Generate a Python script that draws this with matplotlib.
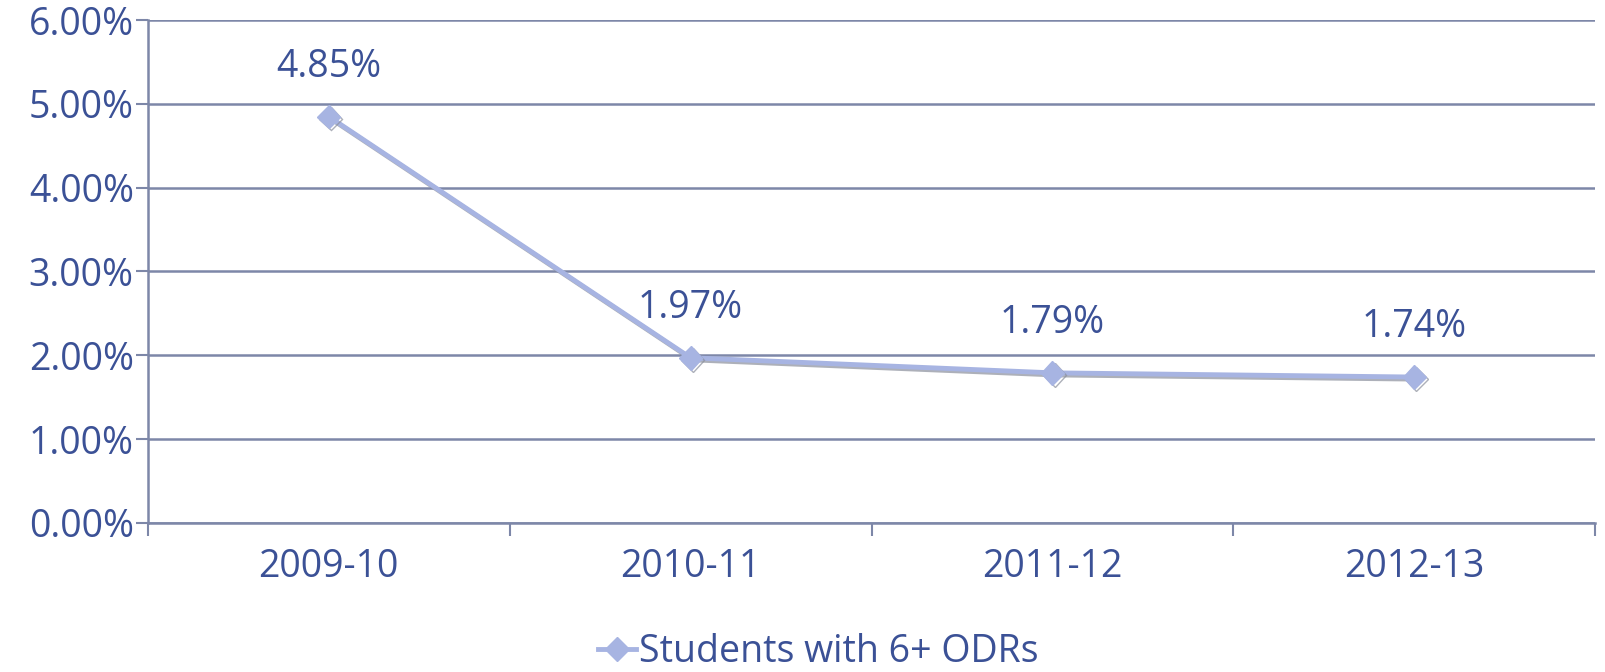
import matplotlib
matplotlib.use("Agg")
import matplotlib.pyplot as plt
import matplotlib.patheffects as pe
from matplotlib.ticker import FuncFormatter, FixedLocator
from matplotlib.lines import Line2D

# data
years = ["2009-10", "2010-11", "2011-12", "2012-13"]
pct_6plus = [4.85, 1.97, 1.79, 1.74]
series_name = "Students with 6+ ODRs"

text_col = "#3b5196"
line_col = "#a7b4e2"
grid_col = "#7d87a8"

plt.rcParams["font.family"] = ["Open Sans", "DejaVu Sans"]

fig = plt.figure(figsize=(16.05, 6.72), dpi=100)
ax = fig.add_axes([0.092, 0.222, 0.902, 0.748])

x = list(range(len(years)))
shadow = [pe.SimpleLineShadow(offset=(1.5, -1.5), shadow_color="#8a8f9c", alpha=0.7), pe.Normal()]
ax.plot(x, pct_6plus, color=line_col, lw=3.5, marker="D", markersize=12,
        markerfacecolor=line_col, markeredgecolor=line_col, path_effects=shadow, zorder=3)

for xi, v in zip(x, pct_6plus):
    ax.annotate(f"{v:.2f}%", (xi, v), xytext=(0, 22), textcoords="offset points",
                ha="center", va="bottom", fontsize=27, color=text_col)

ax.set_xlim(-0.5, len(years) - 0.5)
ax.set_ylim(0, 6)
ax.set_yticks([0, 1, 2, 3, 4, 5, 6])
ax.yaxis.set_major_formatter(FuncFormatter(lambda v, p: f"{v:.2f}%"))
ax.yaxis.grid(True, color=grid_col, lw=1.8)
ax.set_axisbelow(True)

# category axis: labels at centers, tick marks at boundaries
ax.xaxis.set_major_locator(FixedLocator([i - 0.5 for i in range(len(years) + 1)]))
ax.set_xticklabels([])
ax.xaxis.set_minor_locator(FixedLocator(x))
ax.set_xticklabels(years, minor=True)
ax.tick_params(axis="x", which="minor", length=0, pad=18, labelsize=27, labelcolor=text_col)
ax.tick_params(axis="x", which="major", length=9, width=1.5, color=grid_col, direction="out")
ax.tick_params(axis="y", length=9, width=1.5, color=grid_col, labelsize=27,
               labelcolor=text_col, pad=1)

for s in ["top", "right"]:
    ax.spines[s].set_visible(False)
for s in ["left", "bottom"]:
    ax.spines[s].set_color(grid_col)
    ax.spines[s].set_linewidth(1.8)

h = Line2D([], [], color=line_col, lw=3.5, marker="D", markersize=12)
fig.legend([h], [series_name], loc="center", bbox_to_anchor=(0.51, 0.03), frameon=False,
           fontsize=27, labelcolor=text_col, handlelength=1.0, handletextpad=0.1)

fig.savefig("out.png", dpi=100)
